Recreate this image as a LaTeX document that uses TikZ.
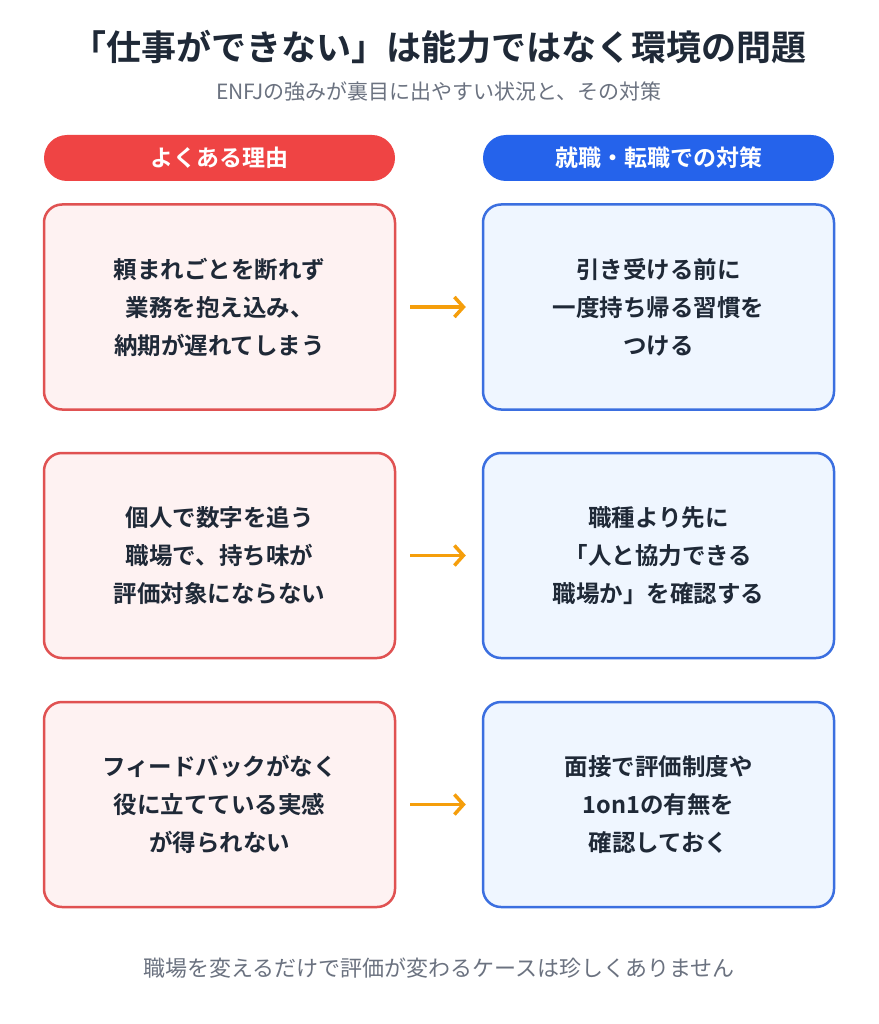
\documentclass[tikz,border=0pt]{standalone}
\usepackage{fontspec}
\setmainfont{Noto Sans CJK JP}[BoldFont={Noto Sans CJK JP Bold}]
\usetikzlibrary{positioning,arrows.meta}
\definecolor{ink}{HTML}{1F2937}
\definecolor{muted}{HTML}{6B7280}
\definecolor{redhead}{HTML}{EF4444}
\definecolor{redfill}{HTML}{FEF2F2}
\definecolor{redline}{HTML}{E05252}
\definecolor{bluehead}{HTML}{2563EB}
\definecolor{bluefill}{HTML}{EFF6FF}
\definecolor{blueline}{HTML}{3B6FE0}
\definecolor{arrowc}{HTML}{F59E0B}
\tikzset{
  head/.style={rounded corners=23pt, minimum width=351pt, minimum height=46pt,
    text=white, font=\fontsize{23}{26}\selectfont\bfseries},
  reason/.style={draw=redline, fill=redfill, line width=2.5pt, rounded corners=18pt,
    minimum width=351pt, minimum height=205pt, align=center, text=ink,
    font=\fontsize{23.5}{38}\selectfont\bfseries},
  remedy/.style={reason, draw=blueline, fill=bluefill},
  toremedy/.style={draw=arrowc, line width=3.5pt, -{Straight Barb[length=9pt,width=20pt]}}
}
\begin{document}
\begin{tikzpicture}[x=1pt,y=-1pt]
\useasboundingbox[fill=white] (0,0) rectangle (878,1024);
\node[font=\fontsize{35}{40}\selectfont\bfseries, text=ink] (title) at (439,47) {「仕事ができない」は能力ではなく環境の問題};
\node[font=\fontsize{21}{25}\selectfont, text=muted] (sub) at (439,92) {ENFJの強みが裏目に出やすい状況と、その対策};
\node[head, fill=redhead] (hl) at (219.5,158) {よくある理由};
\node[head, fill=bluehead] (hr) at (658.5,158) {就職・転職での対策};
% rows
\node[reason] (l1) at (219.5,307) {頼まれごとを断れず\\業務を抱え込み、\\納期が遅れてしまう};
\node[remedy] (r1) at (658.5,307) {引き受ける前に\\一度持ち帰る習慣を\\つける};
\node[reason] (l2) at (219.5,555.5) {個人で数字を追う\\職場で、持ち味が\\評価対象にならない};
\node[remedy] (r2) at (658.5,555.5) {職種より先に\\「人と協力できる\\職場か」を確認する};
\node[reason] (l3) at (219.5,804.5) {フィードバックがなく\\役に立てている実感\\が得られない};
\node[remedy] (r3) at (658.5,804.5) {面接で評価制度や\\1on1の有無を\\確認しておく};
\foreach \i in {1,2,3}
  \draw[toremedy] ([xshift=14pt]l\i.east) -- ([xshift=-16pt]r\i.west);
\node[font=\fontsize{22}{26}\selectfont, text=muted] (foot) at (439,968) {職場を変えるだけで評価が変わるケースは珍しくありません};
\end{tikzpicture}
\end{document}
